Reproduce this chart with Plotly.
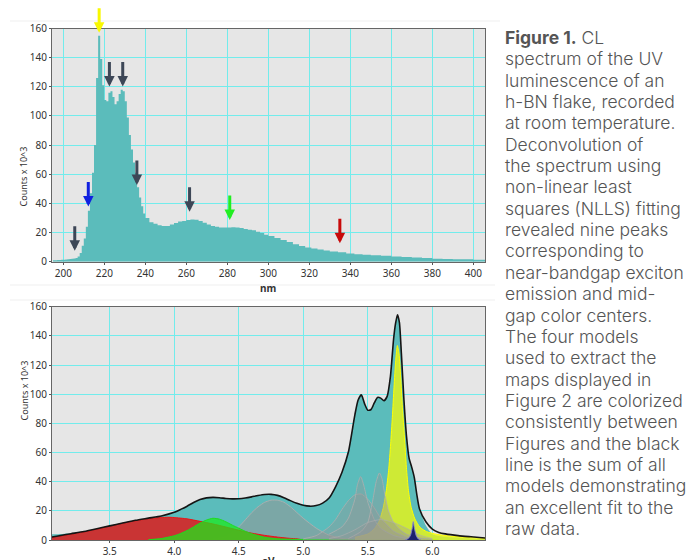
import plotly.graph_objects as go

# ---------------- Top chart: CL spectrum vs wavelength ----------------
nm = [195, 196, 197, 198, 199, 200, 201, 202, 203, 204, 205, 206, 207, 208, 209,
      210, 211, 212, 213, 214, 215, 216, 217, 218, 219, 220, 221, 222, 223, 224,
      225, 226, 227, 228, 229, 230, 231, 232, 233, 234, 235, 236, 237, 238, 239,
      240, 242, 244, 246, 248, 250, 252, 254, 256, 258, 260, 262, 264, 266, 268,
      270, 272, 274, 276, 278, 280, 282, 284, 286, 288, 290, 292, 294, 296, 298,
      300, 303, 306, 309, 312, 315, 318, 321, 324, 327, 330, 334, 338, 342, 346,
      350, 355, 360, 365, 370, 375, 380, 385, 390, 395, 400, 406]
counts_nm = [1.0, 1.0, 1.2, 1.2, 1.3, 1.4, 1.5, 1.6, 1.8, 2.0, 2.2, 2.5, 3.5, 6, 11,
             16, 24, 35, 47, 61, 80, 126, 155, 139, 121, 111, 110, 116, 117, 113,
             108, 110, 115, 118, 117, 110, 99, 87, 77, 68, 61, 51, 44, 38, 33,
             30, 27, 26, 25, 24.5, 24.5, 25.5, 26.5, 27.5, 28, 28.6, 29, 28.7, 28, 26.8,
             25.5, 24.5, 24, 23.5, 23.5, 23.4, 23.6, 23.4, 23.2, 22.5, 22, 21.5, 20.6, 19.7, 18.5,
             17.6, 16.3, 14.9, 13.5, 12, 10.8, 9.8, 9, 8.3, 7.6, 7, 6.4, 5.7, 5.1, 4.8,
             4.4, 4.0, 3.6, 3.2, 2.8, 2.5, 2.1, 1.8, 1.7, 1.6, 1.4, 1.4]

# Arrows marking the nine peaks: (wavelength, tip value, colour)
arrow_nm = [205.6, 212.2, 217.5, 222.5, 229.0, 235.9, 261.6, 281.2, 334.9]
arrow_val = [7.5, 37.8, 157.0, 120.2, 120.2, 52.7, 34.3, 28.6, 12.6]
arrow_col = ["#3d4757", "#1020e0", "#f8f800", "#3d4757", "#3d4757",
             "#3d4757", "#3d4757", "#22ee22", "#c80a0a"]

nm_ticks = [200, 220, 240, 260, 280, 300, 320, 340, 360, 380, 400]
count_ticks = [0, 20, 40, 60, 80, 100, 120, 140, 160]

# ---------------- Bottom chart: deconvolution vs energy ----------------
ev = [3.05, 3.1, 3.2, 3.3, 3.4, 3.5, 3.6, 3.7, 3.8, 3.9, 4.0, 4.05, 4.1, 4.15, 4.2,
      4.25, 4.3, 4.35, 4.4, 4.45, 4.5, 4.55, 4.6, 4.65, 4.7, 4.75, 4.8, 4.85, 4.9,
      4.95, 5.0, 5.05, 5.1, 5.15, 5.2, 5.25, 5.3, 5.35, 5.4, 5.425, 5.45, 5.475,
      5.5, 5.525, 5.55, 5.575, 5.6, 5.625, 5.65, 5.675, 5.7, 5.715, 5.73, 5.745,
      5.76, 5.78, 5.8, 5.82, 5.84, 5.86, 5.88, 5.9, 5.95, 6.0, 6.05, 6.1, 6.2,
      6.3, 6.41]
raw_ev = [4.0, 4.0, 4.6, 5.8, 7.7, 9.7, 11.6, 13.5, 15.0, 16.5, 19.0, 21, 23.2, 25.7, 27.7,
          28.9, 29.2, 29.0, 28.5, 28.2, 28.3, 28.8, 29.6, 30.5, 31.2, 31.3, 30.6, 29.0, 27.0,
          25.2, 23.8, 23.2, 23.6, 25.3, 28.8, 36.5, 46.5, 60.5, 86, 96, 99.5, 93.4,
          89, 89.5, 94, 97.8, 97.3, 95.5, 98.5, 112, 138, 148.5, 154.5, 149,
          128, 96, 71, 56, 50, 43, 31, 21.5, 10, 4.0, 2.8, 2.2, 1.5,
          1.0, 0.7]
sum_ev = [2.0, 2.8, 4.3, 5.8, 7.7, 9.7, 11.6, 13.5, 15.0, 16.5, 19.0, 21, 23.2, 25.7, 27.7,
          28.9, 29.2, 29.0, 28.5, 28.2, 28.3, 28.8, 29.6, 30.5, 31.2, 31.3, 30.6, 29.0, 27.0,
          25.2, 23.8, 23.2, 23.6, 25.3, 28.8, 36.5, 46.5, 60.5, 86, 96, 99.5, 93.4,
          89, 89.5, 94, 97.8, 97.3, 95.5, 98.5, 112, 138, 148.5, 154.5, 149,
          128, 96, 71, 56, 50, 43, 31, 21.5, 12.5, 7.5, 5.2, 4.2, 3.0,
          2.2, 1.4]

red_ev = [3.05, 3.2, 3.35, 3.5, 3.65, 3.8, 3.9, 3.95, 4.0, 4.1, 4.2, 4.3, 4.4, 4.5,
          4.6, 4.7, 4.8, 4.9, 4.95, 5.0]
red_val = [1.8, 3.9, 6.4, 9.5, 12.4, 14.6, 15.4, 15.6, 15.4, 14.5, 12.8, 11.0, 8.9, 6.7,
           4.7, 3.2, 2.0, 1.1, 0.8, 0.0]

green_ev = [3.8, 3.9, 4.0, 4.05, 4.1, 4.15, 4.2, 4.25, 4.3, 4.35, 4.4, 4.45, 4.5, 4.55,
            4.6, 4.7, 4.8, 4.9, 5.0, 5.5, 6.0, 6.05]
green_val = [0.2, 1.0, 2.9, 4.5, 6.5, 9.0, 11.6, 13.7, 14.9, 14.3, 12.5, 10.2, 8.1, 6.0,
             4.3, 1.9, 0.8, 0.5, 0.4, 0.4, 0.3, 0.0]

gray1_ev = [4.3, 4.4, 4.5, 4.6, 4.65, 4.7, 4.75, 4.8, 4.85, 4.9, 5.0, 5.1, 5.2, 5.3, 5.4]
gray1_val = [0.5, 2.3, 9.0, 18.7, 22.8, 25.8, 27.3, 27.3, 25.9, 22.8, 14.9, 8.1, 3.3, 1.1, 0.3]

gray2_ev = [5.0, 5.1, 5.2, 5.25, 5.3, 5.35, 5.4, 5.45, 5.5, 5.55, 5.6, 5.7, 5.8, 5.9]
gray2_val = [0.8, 3.0, 9.0, 14.0, 21.0, 27.0, 31.0, 31.5, 28.0, 22.0, 15.0, 6.0, 2.0, 0.5]

gray3_ev = [5.2, 5.3, 5.35, 5.4, 5.42, 5.445, 5.47, 5.5, 5.55, 5.6, 5.7, 5.8]
gray3_val = [4.0, 9.0, 15.0, 28.0, 38.0, 43.5, 37.0, 26.0, 14.0, 8.0, 3.0, 1.0]

gray4_ev = [5.35, 5.45, 5.5, 5.54, 5.565, 5.59, 5.61, 5.63, 5.66, 5.7, 5.75, 5.8, 5.9, 6.0]
gray4_val = [1.0, 6.0, 12.0, 28.0, 40.0, 46.0, 42.0, 32.0, 20.0, 12.0, 7.0, 4.0, 1.5, 0.5]

gray5_ev = [5.2, 5.3, 5.4, 5.5, 5.6, 5.7, 5.8, 5.9, 6.0]
gray5_val = [1.0, 3.0, 7.0, 12.0, 14.0, 12.0, 8.0, 3.5, 1.0]

yellow_ev = [5.4, 5.5, 5.55, 5.59, 5.62, 5.643, 5.661, 5.677, 5.69, 5.703, 5.716, 5.729,
             5.742, 5.755, 5.768, 5.784, 5.799, 5.815, 5.836, 5.865, 5.904, 5.956, 6.034,
             6.138, 6.294, 6.41]
yellow_val = [1.8, 4.1, 7.6, 13.3, 22.4, 33.9, 47.6, 65.9, 84.2, 104.8, 123, 133.4,
              127.7, 111.7, 91, 70.5, 49.9, 33.9, 22.4, 14.4, 8.7, 5.7, 3.9,
              2.7, 1.8, 1.3]

navy_ev = [5.79, 5.81, 5.83, 5.845, 5.852, 5.86, 5.875, 5.89, 5.91]
navy_val = [0.0, 0.8, 3.0, 8.5, 12.6, 8.5, 3.0, 0.8, 0.0]

ev_ticks = [3.5, 4.0, 4.5, 5.0, 5.5, 6.0]

caption_lines = [
    "<b>Figure 1.</b> CL",
    "spectrum of the UV",
    "luminescence of an",
    "h-BN flake, recorded",
    "at room temperature.",
    "Deconvolution of",
    "the spectrum using",
    "non-linear least",
    "squares (NLLS) fitting",
    "revealed nine peaks",
    "corresponding to",
    "near-bandgap exciton",
    "emission and mid-",
    "gap color centers.",
    "The four models",
    "used to extract the",
    "maps displayed in",
    "Figure 2 are colorized",
    "consistently between",
    "Figures and the black",
    "line is the sum of all",
    "models demonstrating",
    "an excellent fit to the",
    "raw data.",
]

# ---------------- Figure ----------------
W, H = 694, 560
TEAL = "#5bbcbb"
GRID = "#72ecec"

def px_x(p):
    return p / W

def px_y(p):
    return 1 - p / H

fig = go.Figure()

fig.add_trace(go.Scatter(x=nm, y=counts_nm, mode="lines", line=dict(width=0, shape="hv"),
                         fill="tozeroy", fillcolor=TEAL, hoverinfo="skip",
                         xaxis="x", yaxis="y"))

def area(x, y, fillcolor, linecolor, lw=1):
    fig.add_trace(go.Scatter(x=x, y=y, mode="lines", fill="tozeroy", fillcolor=fillcolor,
                             line=dict(color=linecolor, width=lw, shape="spline", smoothing=0.6),
                             hoverinfo="skip", xaxis="x2", yaxis="y2"))

area(ev, raw_ev, TEAL, "rgba(0,0,0,0)", 0)
area(gray1_ev, gray1_val, "rgba(150,150,150,0.55)", "rgba(175,175,175,0.9)")
area(red_ev, red_val, "rgba(210,40,40,0.92)", "rgba(235,20,20,1)")
area(green_ev, green_val, "rgba(25,235,25,0.72)", "rgba(30,220,30,1)")
area(yellow_ev, yellow_val, "rgba(235,245,20,0.8)", "rgba(255,255,0,1)")
area(gray2_ev, gray2_val, "rgba(150,150,150,0.40)", "rgba(175,175,175,0.8)")
area(gray3_ev, gray3_val, "rgba(150,150,150,0.40)", "rgba(175,175,175,0.8)")
area(gray4_ev, gray4_val, "rgba(150,150,150,0.40)", "rgba(175,175,175,0.8)")
area(gray5_ev, gray5_val, "rgba(150,150,150,0.30)", "rgba(175,175,175,0.6)")
area(navy_ev, navy_val, "#1c216e", "rgba(130,130,210,0.9)")

fig.add_trace(go.Scatter(x=ev, y=sum_ev, mode="lines",
                         line=dict(color="#151515", width=1.6, shape="spline", smoothing=0.6),
                         hoverinfo="skip", xaxis="x2", yaxis="y2"))

xdom = [px_x(52), px_x(485)]
axis_common = dict(showline=True, linecolor="#666", linewidth=1, mirror=True,
                   ticks="outside", ticklen=2, tickcolor="#555", automargin=False,
                   tickfont=dict(family="Noto Sans", size=10, color="#333"),
                   showgrid=True, gridcolor=GRID, gridwidth=1, zeroline=False)

fig.update_layout(
    width=W, height=H,
    margin=dict(l=0, r=0, t=0, b=0, pad=0, autoexpand=False),
    paper_bgcolor="white", plot_bgcolor="#e6e6e6",
    showlegend=False,
    xaxis=dict(domain=xdom, range=[194.5, 405.7], tickvals=nm_ticks, anchor="y", **axis_common),
    yaxis=dict(domain=[px_y(261.7), px_y(28.5)], range=[0, 160], tickvals=count_ticks,
               anchor="x", **axis_common),
    xaxis2=dict(domain=xdom, range=[3.053, 6.408], tickvals=ev_ticks, tickformat=".1f",
                anchor="y2", **axis_common),
    yaxis2=dict(domain=[px_y(540), px_y(306.7)], range=[0, 160], tickvals=count_ticks,
                anchor="x2", **axis_common),
)

annotations = []
for xv, yv, c in zip(arrow_nm, arrow_val, arrow_col):
    annotations.append(dict(x=xv, y=yv, xref="x", yref="y", text="", showarrow=True,
                            ax=0, ay=-26, arrowhead=2, arrowsize=0.7, arrowwidth=3,
                            arrowcolor=c, standoff=0))

title_font = dict(family="Noto Sans", size=9, color="#333")
annotations.append(dict(x=px_x(15), y=px_y(145), xref="paper", yref="paper",
                        text="Counts x 10^3", textangle=-90, showarrow=False, font=title_font))
annotations.append(dict(x=px_x(15), y=px_y(423), xref="paper", yref="paper",
                        text="Counts x 10^3", textangle=-90, showarrow=False, font=title_font))
annotations.append(dict(x=px_x(268), y=px_y(279), xref="paper", yref="paper", yanchor="top",
                        text="<b>nm</b>", showarrow=False,
                        font=dict(family="Noto Sans", size=10, color="#333")))
annotations.append(dict(x=px_x(268), y=px_y(552), xref="paper", yref="paper", yanchor="top",
                        text="<b>eV</b>", showarrow=False,
                        font=dict(family="Noto Sans", size=10, color="#333")))

for i, line in enumerate(caption_lines):
    annotations.append(dict(x=px_x(503), y=px_y(37.5 + 21.35 * i), xref="paper", yref="paper",
                            xanchor="left", yanchor="middle", text=line, showarrow=False,
                            font=dict(family="Inter", size=17.5, color="#555555", weight=300)))

fig.update_layout(annotations=annotations)

shapes = []
for yy, x0, x1 in [(21, 10, 500), (285, 10, 495), (300, 10, 495)]:
    shapes.append(dict(type="line", xref="paper", yref="paper", x0=px_x(x0), x1=px_x(x1),
                       y0=px_y(yy), y1=px_y(yy), line=dict(color="#efefef", width=1)))
fig.update_layout(shapes=shapes)

fig.write_html("out.html", config={"displayModeBar": False},
               post_script="document.body.style.margin='0px';document.body.style.overflow='hidden';")
